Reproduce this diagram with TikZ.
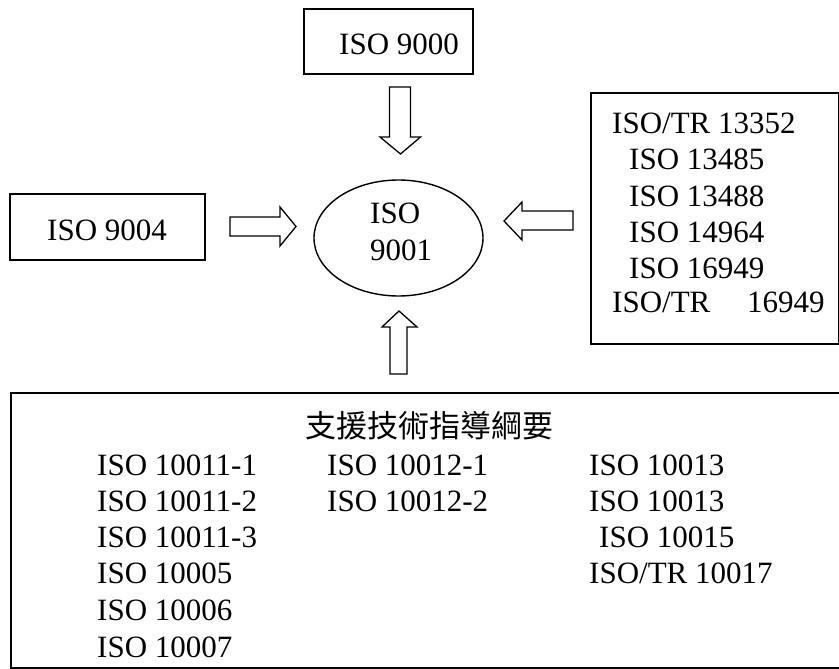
\documentclass[tikz,border=0pt]{standalone}
\usepackage{fontspec}
\setmainfont{Liberation Serif}
\newfontfamily\cjkfont{Noto Sans CJK TC}
\usetikzlibrary{shapes.geometric}

\tikzset{
  frame/.style={draw, line width=1.8pt, inner sep=0pt, anchor=north west},
  txt/.style={inner sep=0pt, anchor=base west, font=\fontsize{31}{37}\selectfont},
  cjktxt/.style={inner sep=0pt, anchor=base west, font=\cjkfont\fontsize{31}{37}\selectfont},
  blockarrow/.style={draw, line width=1.3pt, line join=miter, fill=white},
}

\begin{document}
\begin{tikzpicture}[x=1pt, y=-1pt]
  \useasboundingbox (0,0) rectangle (839,669);
  \clip (0,0) rectangle (839,669);

  % frames
  \node[frame, minimum width=169pt, minimum height=65pt] (b9000) at (303,8) {};
  \node[frame, minimum width=195pt, minimum height=66pt] (b9004) at (9,193) {};
  \node[frame, minimum width=248pt, minimum height=251pt] (bsector) at (590,92) {};
  \node[frame, minimum width=840pt, minimum height=275pt] (bsupport) at (10,392) {};
  \node[draw, ellipse, line width=1.4pt, minimum width=169pt, minimum height=116pt, inner sep=0pt] (core) at (398.5,238) {};

  % central standard
  \node[txt] (t9001a) at (370,223) {ISO};
  \node[txt] (t9001b) at (370,260) {9001};

  % top and left standards
  \node[txt] (t9000) at (339,55) {ISO 9000};
  \node[txt] (t9004) at (47,240) {ISO 9004};

  % sector-specific standards
  \node[txt] (s1) at (612,133) {ISO/TR 13352};
  \node[txt] (s2) at (629,169.5) {ISO 13485};
  \node[txt] (s3) at (629,206) {ISO 13488};
  \node[txt] (s4) at (629,242.5) {ISO 14964};
  \node[txt] (s5) at (629,278) {ISO 16949};
  \node[txt] (s6a) at (612,312) {ISO/TR};
  \node[txt] (s6b) at (747,312) {16949};

  % supporting guidelines
  \node[cjktxt] (title) at (305,437) {支援技術指導綱要};
  \node[txt] (g11) at (97,475) {ISO 10011-1};
  \node[txt] (g12) at (97,511) {ISO 10011-2};
  \node[txt] (g13) at (97,547) {ISO 10011-3};
  \node[txt] (g14) at (97,583) {ISO 10005};
  \node[txt] (g15) at (97,620) {ISO 10006};
  \node[txt] (g16) at (97,657) {ISO 10007};
  \node[txt] (g21) at (327,475) {ISO 10012-1};
  \node[txt] (g22) at (327,511) {ISO 10012-2};
  \node[txt] (g31) at (589,475) {ISO 10013};
  \node[txt] (g32) at (589,511) {ISO 10013};
  \node[txt] (g33) at (599,547) {ISO 10015};
  \node[txt] (g34) at (589,583) {ISO/TR 10017};

  % hollow block arrows pointing at the centre
  \draw[blockarrow] (389.5,87) -- (410.5,87) -- (410.5,137) -- (420.5,137)
    -- (400.5,154) -- (380,137) -- (389.5,137) -- cycle;
  \draw[blockarrow] (230,217) -- (280,217) -- (280,207) -- (296,226.5)
    -- (280,246) -- (280,236) -- (230,236) -- cycle;
  \draw[blockarrow] (573,211) -- (522,211) -- (522,202) -- (504,221)
    -- (522,240) -- (522,230) -- (573,230) -- cycle;
  \draw[blockarrow] (390,374) -- (390,327) -- (382,327) -- (399,311)
    -- (417,327) -- (407,327) -- (407,374) -- cycle;
\end{tikzpicture}
\end{document}
